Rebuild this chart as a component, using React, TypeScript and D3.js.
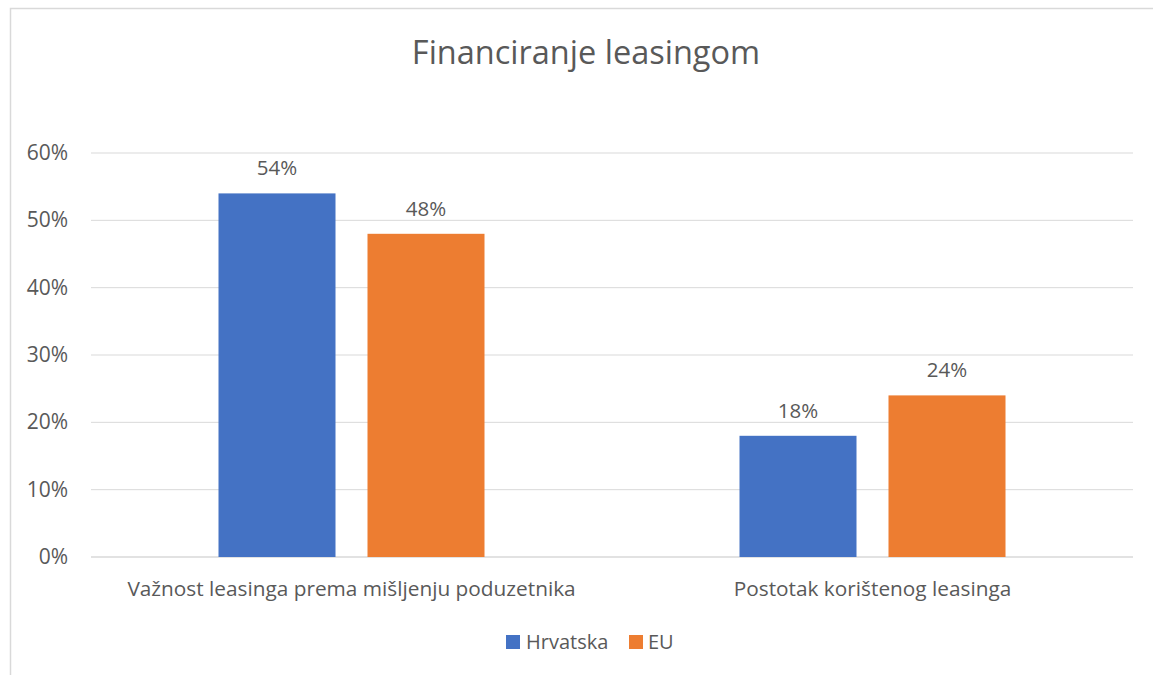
import React from "react";
import * as d3 from "d3";

const categories = ["Važnost leasinga prema mišljenju poduzetnika", "Postotak korištenog leasinga"];
const seriesNames = ["Hrvatska", "EU"];
const hrvatska = [0.54, 0.18];
const eu = [0.48, 0.24];
const yTicks = [0, 0.1, 0.2, 0.3, 0.4, 0.5, 0.6];
const colors = ["#4472C4", "#ED7D31"];

const W = 1153;
const H = 675;
const FONT = "'Open Sans', Lato, sans-serif";
const TXT = "#595959";

export default function App() {
  const plotL = 91, plotR = 1133, plotT = 153, plotB = 557;
  const x0 = d3.scaleBand<string>().domain(categories).range([plotL, plotR]).paddingInner(0).paddingOuter(0);
  const y = d3.scaleLinear().domain([0, 0.6]).range([plotB, plotT]);
  const bw = 117, gap = 32;
  const series = [hrvatska, eu];
  const fmt = d3.format(".0%");

  return (
    <div style={{ position: "absolute", left: 0, top: 0, width: W, height: H }}>
      <svg width={W} height={H} style={{ display: "block" }}>
        <rect x={10.5} y={8.5} width={W + 20} height={H + 20} fill="#fff" stroke="#d9d9d9" strokeWidth={1.5} />
        <text x={586} y={64} textAnchor="middle" fontFamily={FONT} fontSize={32.5} fill={TXT}>Financiranje leasingom</text>
        {yTicks.map((t) => (
          <g key={t}>
            <line x1={plotL} x2={plotR} y1={y(t)} y2={y(t)} stroke="#d9d9d9" strokeWidth={t === 0 ? 1.5 : 1} />
            <text x={68} y={y(t) + 7} textAnchor="end" fontFamily={FONT} fontSize={21} fill={TXT}>{fmt(t)}</text>
          </g>
        ))}
        {categories.map((c, ci) => {
          const center = x0(c)! + x0.bandwidth() / 2;
          const groupW = bw * 2 + gap;
          return (
            <g key={c}>
              {series.map((s, si) => {
                const bx = center - groupW / 2 + si * (bw + gap);
                return (
                  <g key={si}>
                    <rect x={bx} y={y(s[ci])} width={bw} height={plotB - y(s[ci])} fill={colors[si]} />
                    <text x={bx + bw / 2} y={y(s[ci]) - 18} textAnchor="middle" fontFamily={FONT} fontSize={20.5} fill={TXT}>{fmt(s[ci])}</text>
                  </g>
                );
              })}
              <text x={center} y={596} textAnchor="middle" fontFamily={FONT} fontSize={20.8} fill={TXT}>{c}</text>
            </g>
          );
        })}
        <g>
          <rect x={506} y={635} width={14} height={14} fill={colors[0]} />
          <text x={526} y={649} fontFamily={FONT} fontSize={20} fill={TXT}>{seriesNames[0]}</text>
          <rect x={629} y={635} width={14} height={14} fill={colors[1]} />
          <text x={648} y={649} fontFamily={FONT} fontSize={20} fill={TXT}>{seriesNames[1]}</text>
        </g>
      </svg>
    </div>
  );
}
